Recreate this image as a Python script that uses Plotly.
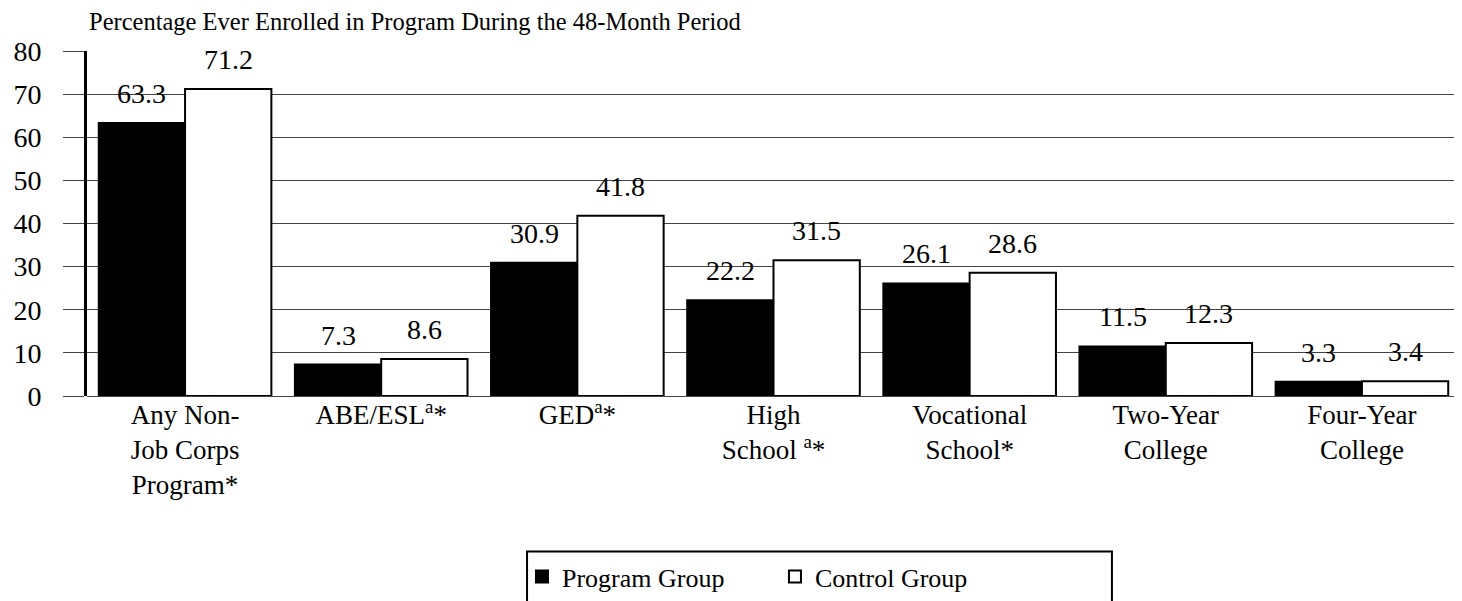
import plotly.graph_objects as go

categories = ["Any Non-<br>Job Corps<br>Program*", "ABE/ESL<sup>a</sup>*", "GED<sup>a</sup>*",
              "High<br>School <sup>a</sup>*", "Vocational<br>School*", "Two-Year<br>College",
              "Four-Year<br>College"]
program_group = [63.3, 7.3, 30.9, 22.2, 26.1, 11.5, 3.3]
control_group = [71.2, 8.6, 41.8, 31.5, 28.6, 12.3, 3.4]
y_ticks = [0, 10, 20, 30, 40, 50, 60, 70, 80]

FONT = "Liberation Serif, Times New Roman, serif"

# page has an 8px body margin; compensate so the plot lands where the reference has it
W, H = 1454, 593
ML, MR, MT, MB = 79, 2, 43, 204
BARGAP = 0.12

fig = go.Figure()
fig.add_trace(go.Bar(
    x=categories, y=program_group, name="Program Group",
    marker=dict(color="black", line=dict(color="black", width=2)),
))
fig.add_trace(go.Bar(
    x=categories, y=control_group, name="Control Group",
    marker=dict(color="white", line=dict(color="black", width=2)),
))

plot_w = W - ML - MR
cat_w = plot_w / len(categories)
bar_w = cat_w * (1 - BARGAP) / 2

annotations = [dict(text="Percentage Ever Enrolled in Program During the 48-Month Period",
                    xref="paper", yref="paper", x=0.0, y=1.0, xanchor="left", yanchor="bottom",
                    yshift=14, showarrow=False, font=dict(size=24.5, family=FONT))]
for series, shift in ((program_group, -bar_w / 2), (control_group, bar_w / 2)):
    for c, v in zip(categories, series):
        annotations.append(dict(text=f"{v:.1f}", x=c, y=v, xref="x", yref="y",
                                xanchor="center", yanchor="bottom", xshift=shift, yshift=12,
                                showarrow=False, font=dict(size=28, family=FONT, color="black")))

fig.update_layout(
    width=W, height=H,
    margin=dict(l=ML, r=MR, t=MT, b=MB),
    paper_bgcolor="white", plot_bgcolor="white",
    font=dict(family=FONT, size=28, color="black"),
    barmode="group", bargap=BARGAP, bargroupgap=0,
    showlegend=True,
    legend=dict(orientation="h", x=0.3168, y=-0.451, xanchor="left", yanchor="top",
                borderwidth=0, bgcolor="rgba(0,0,0,0)", font=dict(size=26, family=FONT),
                itemwidth=30, entrywidth=208),
    annotations=annotations,
    shapes=[dict(type="rect", xref="paper", yref="paper", x0=0.3205, x1=0.7465,
                 y0=-0.451, y1=-0.65, line=dict(color="black", width=2), fillcolor="rgba(0,0,0,0)",
                 layer="above")],
)
fig.update_yaxes(range=[0, 80], tickvals=y_ticks, showgrid=True, gridcolor="#444", gridwidth=1,
                 zeroline=True, zerolinecolor="#444", zerolinewidth=1,
                 showline=True, linecolor="black", linewidth=3,
                 ticks="outside", ticklen=21, tickcolor="#444", tickwidth=1,
                 tickfont=dict(size=28, family=FONT), ticklabelstandoff=16)
fig.update_xaxes(showline=False, ticks="", tickfont=dict(size=27, family=FONT))

fig.write_html("out.html")
